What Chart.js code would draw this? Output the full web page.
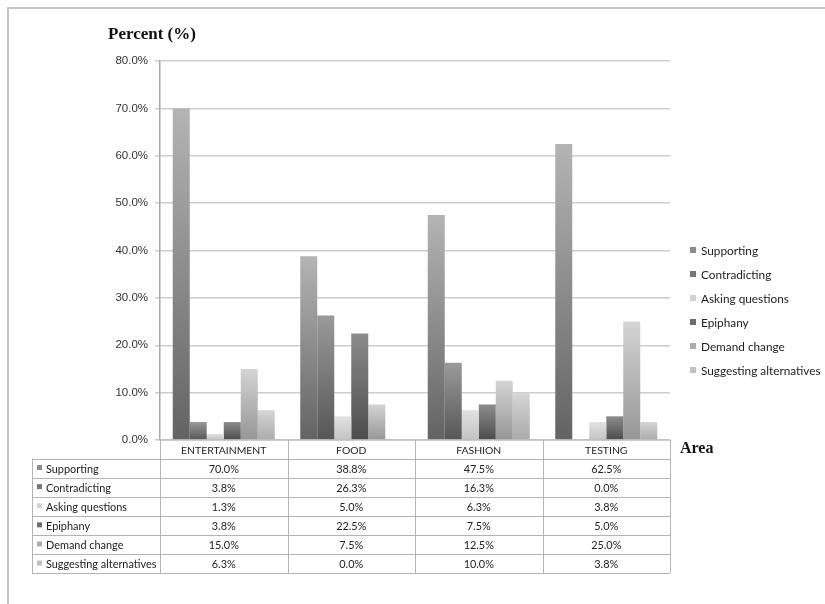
<!DOCTYPE html>
<html>
<head>
<meta charset="utf-8">
<script src="https://cdn.jsdelivr.net/npm/chart.js@4/dist/chart.umd.min.js"></script>
<style>
  html, body { margin: 0; padding: 0; background: #fff; }
  #wrap { width: 825px; height: 604px; position: relative; }
</style>
</head>
<body>
<div id="wrap"><canvas id="c" width="825" height="604"></canvas></div>
<script>
// Survey responses by area (percent of comments)
const categories = ['ENTERTAINMENT', 'FOOD', 'FASHION', 'TESTING'];
const seriesNames = ['Supporting', 'Contradicting', 'Asking questions', 'Epiphany', 'Demand change', 'Suggesting alternatives'];
const supporting = [70.0, 38.8, 47.5, 62.5];
const contradicting = [3.8, 26.3, 16.3, 0.0];
const askingQuestions = [1.3, 5.0, 6.3, 3.8];
const epiphany = [3.8, 22.5, 7.5, 5.0];
const demandChange = [15.0, 7.5, 12.5, 25.0];
const suggestingAlternatives = [6.3, 0.0, 10.0, 3.8];
const yTickValues = [0, 10, 20, 30, 40, 50, 60, 70, 80];

const seriesValues = [supporting, contradicting, askingQuestions, epiphany, demandChange, suggestingAlternatives];

// gray gradients: [top, bottom, legend swatch]
const shades = [
  ['#b4b4b4', '#636363', '#8c8c8c'],
  ['#9a9a9a', '#565656', '#777777'],
  ['#e2e2e2', '#c2c2c2', '#d2d2d2'],
  ['#8c8c8c', '#4c4c4c', '#6c6c6c'],
  ['#d4d4d4', '#969696', '#acacac'],
  ['#d6d6d6', '#aaaaaa', '#c0c0c0']
];

const fmt = v => v.toFixed(1) + '%';
const sansFont = 'Lato, "Open Sans", sans-serif';

function barFill(i) {
  return function (ctx) {
    const chart = ctx.chart;
    if (!chart.chartArea || ctx.type !== 'data') return shades[i][2];
    const y = chart.scales.y;
    const top = y.getPixelForValue(ctx.raw);
    const bot = y.getPixelForValue(0);
    if (bot - top < 1) return shades[i][2];
    const g = chart.ctx.createLinearGradient(0, top, 0, bot);
    g.addColorStop(0, shades[i][0]);
    g.addColorStop(1, shades[i][1]);
    return g;
  };
}

const datasets = seriesNames.map((name, i) => ({
  label: name,
  data: seriesValues[i],
  backgroundColor: barFill(i),
  borderWidth: 0,
  categoryPercentage: 0.8,
  barPercentage: 1.0
}));

// outer frame, titles, legend and data table
const decorations = {
  id: 'decorations',
  beforeDraw(chart) {
    const c = chart.ctx;
    c.save();
    c.strokeStyle = '#c4c4c4';
    c.lineWidth = 2;
    c.strokeRect(8, 8, 1000, 1000);
    c.restore();
  },
  afterDraw(chart) {
    const c = chart.ctx;
    const area = chart.chartArea;
    const xs = chart.scales.x;
    const n = categories.length;
    const colW = (area.right - area.left) / n;
    c.save();

    // axis titles
    c.fillStyle = '#111';
    c.font = 'bold 17px "Liberation Serif", "Times New Roman", serif';
    c.textBaseline = 'middle';
    c.textAlign = 'left';
    c.fillText('Percent (%)', 108, 35);
    c.font = 'bold 16px "Liberation Serif", "Times New Roman", serif';
    c.fillText('Area', 680, 449);

    // legend
    c.font = '11.8px ' + sansFont;
    seriesNames.forEach((name, i) => {
      const y = 251 + i * 24;
      c.fillStyle = shades[i][2];
      c.fillRect(690, y - 4, 6, 6);
      c.fillStyle = '#222';
      c.fillText(name, 701, y);
    });

    // data table
    const tLeft = 32;
    const headTop = area.bottom;
    const rowTop = 458.5;
    const rowH = 19.1;
    const tBottom = rowTop + rowH * seriesNames.length;
    c.strokeStyle = '#b4b4b4';
    c.lineWidth = 1;
    c.beginPath();
    // header cells
    c.moveTo(area.left, headTop); c.lineTo(area.right, headTop);
    for (let k = 0; k <= n; k++) {
      const x = Math.round(area.left + k * colW) + 0.5;
      c.moveTo(x, headTop); c.lineTo(x, tBottom);
    }
    // rows
    for (let r = 0; r <= seriesNames.length; r++) {
      const y = Math.round(rowTop + r * rowH) + 0.5;
      c.moveTo(tLeft, y); c.lineTo(area.right, y);
    }
    c.moveTo(tLeft + 0.5, rowTop); c.lineTo(tLeft + 0.5, tBottom);
    c.stroke();

    c.fillStyle = '#222';
    c.textAlign = 'center';
    c.font = '10.4px ' + sansFont;
    categories.forEach((cat, k) => {
      const cx = xs.getPixelForValue(k);
      c.fillText(cat, cx, (headTop + rowTop) / 2 + 1);
    });
    c.font = '10.9px ' + sansFont;
    seriesNames.forEach((name, r) => {
      const cy = rowTop + r * rowH + rowH / 2 + 1;
      c.textAlign = 'left';
      c.fillStyle = shades[r][2];
      c.fillRect(37, cy - 4, 5, 5);
      c.fillStyle = '#222';
      c.fillText(name, 46, cy);
      c.textAlign = 'center';
      seriesValues[r].forEach((v, k) => {
        c.fillText(fmt(v), xs.getPixelForValue(k), cy);
      });
    });
    c.restore();
  }
};

new Chart(document.getElementById('c'), {
  type: 'bar',
  data: { labels: categories, datasets },
  options: {
    responsive: false,
    animation: false,
    devicePixelRatio: 1,
    layout: { padding: { left: 0, right: 155, top: 61, bottom: 164 } },
    plugins: { legend: { display: false }, tooltip: { enabled: false } },
    scales: {
      x: { display: false },
      y: {
        min: 0,
        max: 80,
        afterFit(scale) { scale.width = 160; },
        afterBuildTicks(scale) { scale.ticks = yTickValues.map(v => ({ value: v })); },
        border: { color: '#a8a8a8', width: 1.5 },
        grid: { color: '#cdcdcd', lineWidth: 1.5, tickLength: 5 },
        ticks: {
          padding: 7,
          color: '#333',
          font: { family: '"Liberation Sans", Arial, sans-serif', size: 11.5 },
          callback: v => fmt(v)
        }
      }
    }
  },
  plugins: [decorations]
});
</script>
</body>
</html>
